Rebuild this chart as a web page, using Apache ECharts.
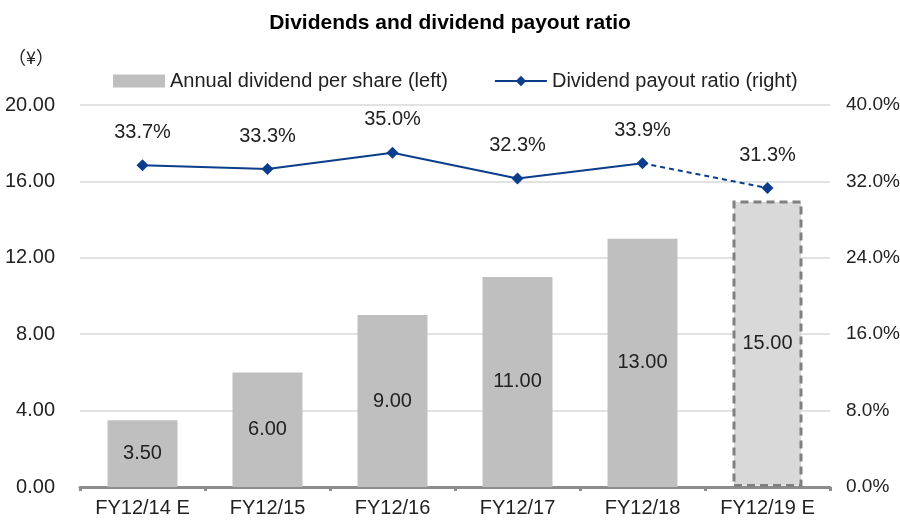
<!DOCTYPE html>
<html>
<head>
<meta charset="utf-8">
<script src="https://cdn.jsdelivr.net/npm/echarts@6/dist/echarts.min.js"></script>
<style>
  html, body { margin: 0; padding: 0; background: #fff; }
  #chart { width: 900px; height: 521px; }
</style>
</head>
<body>
<div id="chart"></div>
<script>
// 数据
var categories = ['FY12/14 E', 'FY12/15', 'FY12/16', 'FY12/17', 'FY12/18', 'FY12/19 E'];
var dividends = [3.50, 6.00, 9.00, 11.00, 13.00, 15.00];
var payoutRatio = [33.7, 33.3, 35.0, 32.3, 33.9, 31.3];
var leftTicks = { min: 0, max: 20, interval: 4 };
var rightTicks = { min: 0, max: 40, interval: 8 };

var FONT = '"Liberation Sans", Arial, sans-serif';
var FS = 20;
var LINE_COLOR = '#0b3d8a';
var lastIdx = dividends.length - 1;

var myChart = echarts.init(document.getElementById('chart'));

// 柱形：最后一根为预测值（虚线边框）
var barData = dividends.map(function (v, i) {
    if (i === lastIdx) {
        return {
            value: v,
            itemStyle: {
                color: '#d9d9d9',
                borderColor: '#808080',
                borderWidth: 3,
                borderType: [8, 5]
            }
        };
    }
    return v;
});

// 折线：实线部分 + 虚线部分
var solidLine = payoutRatio.map(function (v, i) { return i < lastIdx ? v : '-'; });
var dashedLine = payoutRatio.map(function (v, i) {
    if (i === lastIdx) return { value: v, label: { show: true } };
    if (i === lastIdx - 1) return { value: v, symbol: 'none' };
    return '-';
});

var pctLabel = {
    position: 'top',
    distance: 17,
    fontFamily: FONT,
    fontSize: FS,
    color: '#222',
    formatter: function (p) { return p.value.toFixed(1) + '%'; }
};

var option = {
    animation: false,
    backgroundColor: '#fff',
    textStyle: { fontFamily: FONT },
    title: {
        text: 'Dividends and dividend payout ratio',
        left: 'center',
        top: 8,
        textStyle: {
            fontFamily: FONT,
            fontSize: 21,
            fontWeight: 'bold',
            color: '#000'
        }
    },
    graphic: [{
        type: 'text',
        left: 8,
        top: 48,
        style: {
            text: '（¥）',
            fontFamily: '"Noto Sans CJK JP", sans-serif',
            fontSize: 18,
            fill: '#222'
        }
    }],
    legend: {
        left: 108,
        top: 66,
        itemWidth: 52,
        itemHeight: 13,
        itemGap: 46,
        textStyle: { fontFamily: FONT, fontSize: FS, color: '#222' },
        data: [
            { name: 'Annual dividend per share (left)', icon: 'rect' },
            { name: 'Dividend payout ratio (right)' }
        ]
    },
    grid: {
        left: 80,
        right: 70,
        top: 105,
        bottom: 34,
        outerBoundsMode: 'none',
        containLabel: false
    },
    xAxis: {
        type: 'category',
        data: categories,
        axisLine: { lineStyle: { color: '#8c8c8c', width: 3 } },
        axisTick: { show: true, length: 4, lineStyle: { color: '#8c8c8c', width: 3 } },
        axisLabel: { fontFamily: FONT, fontSize: FS, color: '#222', margin: 11 }
    },
    yAxis: [
        {
            type: 'value',
            min: leftTicks.min,
            max: leftTicks.max,
            interval: leftTicks.interval,
            axisLine: { show: false },
            axisTick: { show: false },
            axisLabel: {
                fontFamily: FONT,
                fontSize: FS,
                color: '#222',
                margin: 25,
                formatter: function (v) { return v.toFixed(2); }
            },
            splitLine: { lineStyle: { color: '#d9d9d9', width: 1.5 } }
        },
        {
            type: 'value',
            min: rightTicks.min,
            max: rightTicks.max,
            interval: rightTicks.interval,
            axisLine: { show: false },
            axisTick: { show: false },
            splitLine: { show: false },
            axisLabel: {
                fontFamily: FONT,
                fontSize: 19,
                color: '#222',
                margin: 16,
                formatter: function (v) { return v.toFixed(1) + '%'; }
            }
        }
    ],
    series: [
        {
            name: 'Annual dividend per share (left)',
            type: 'bar',
            yAxisIndex: 0,
            barWidth: 70,
            itemStyle: { color: '#bfbfbf' },
            label: {
                show: true,
                position: 'inside',
                fontFamily: FONT,
                fontSize: FS,
                color: '#222',
                formatter: function (p) { return p.value.toFixed(2); }
            },
            data: barData,
            z: 2
        },
        {
            name: 'Dividend payout ratio (right)',
            type: 'line',
            yAxisIndex: 1,
            symbol: 'diamond',
            symbolSize: 12,
            color: LINE_COLOR,
            lineStyle: { color: LINE_COLOR, width: 2 },
            itemStyle: { color: LINE_COLOR },
            label: Object.assign({ show: true }, pctLabel),
            data: solidLine,
            z: 5
        },
        {
            name: 'dashed',
            type: 'line',
            yAxisIndex: 1,
            symbol: 'diamond',
            symbolSize: 12,
            lineStyle: { color: LINE_COLOR, width: 2, type: [5, 4] },
            itemStyle: { color: LINE_COLOR },
            label: Object.assign({ show: false }, pctLabel),
            data: dashedLine,
            z: 4
        }
    ]
};

myChart.setOption(option);
</script>
</body>
</html>
